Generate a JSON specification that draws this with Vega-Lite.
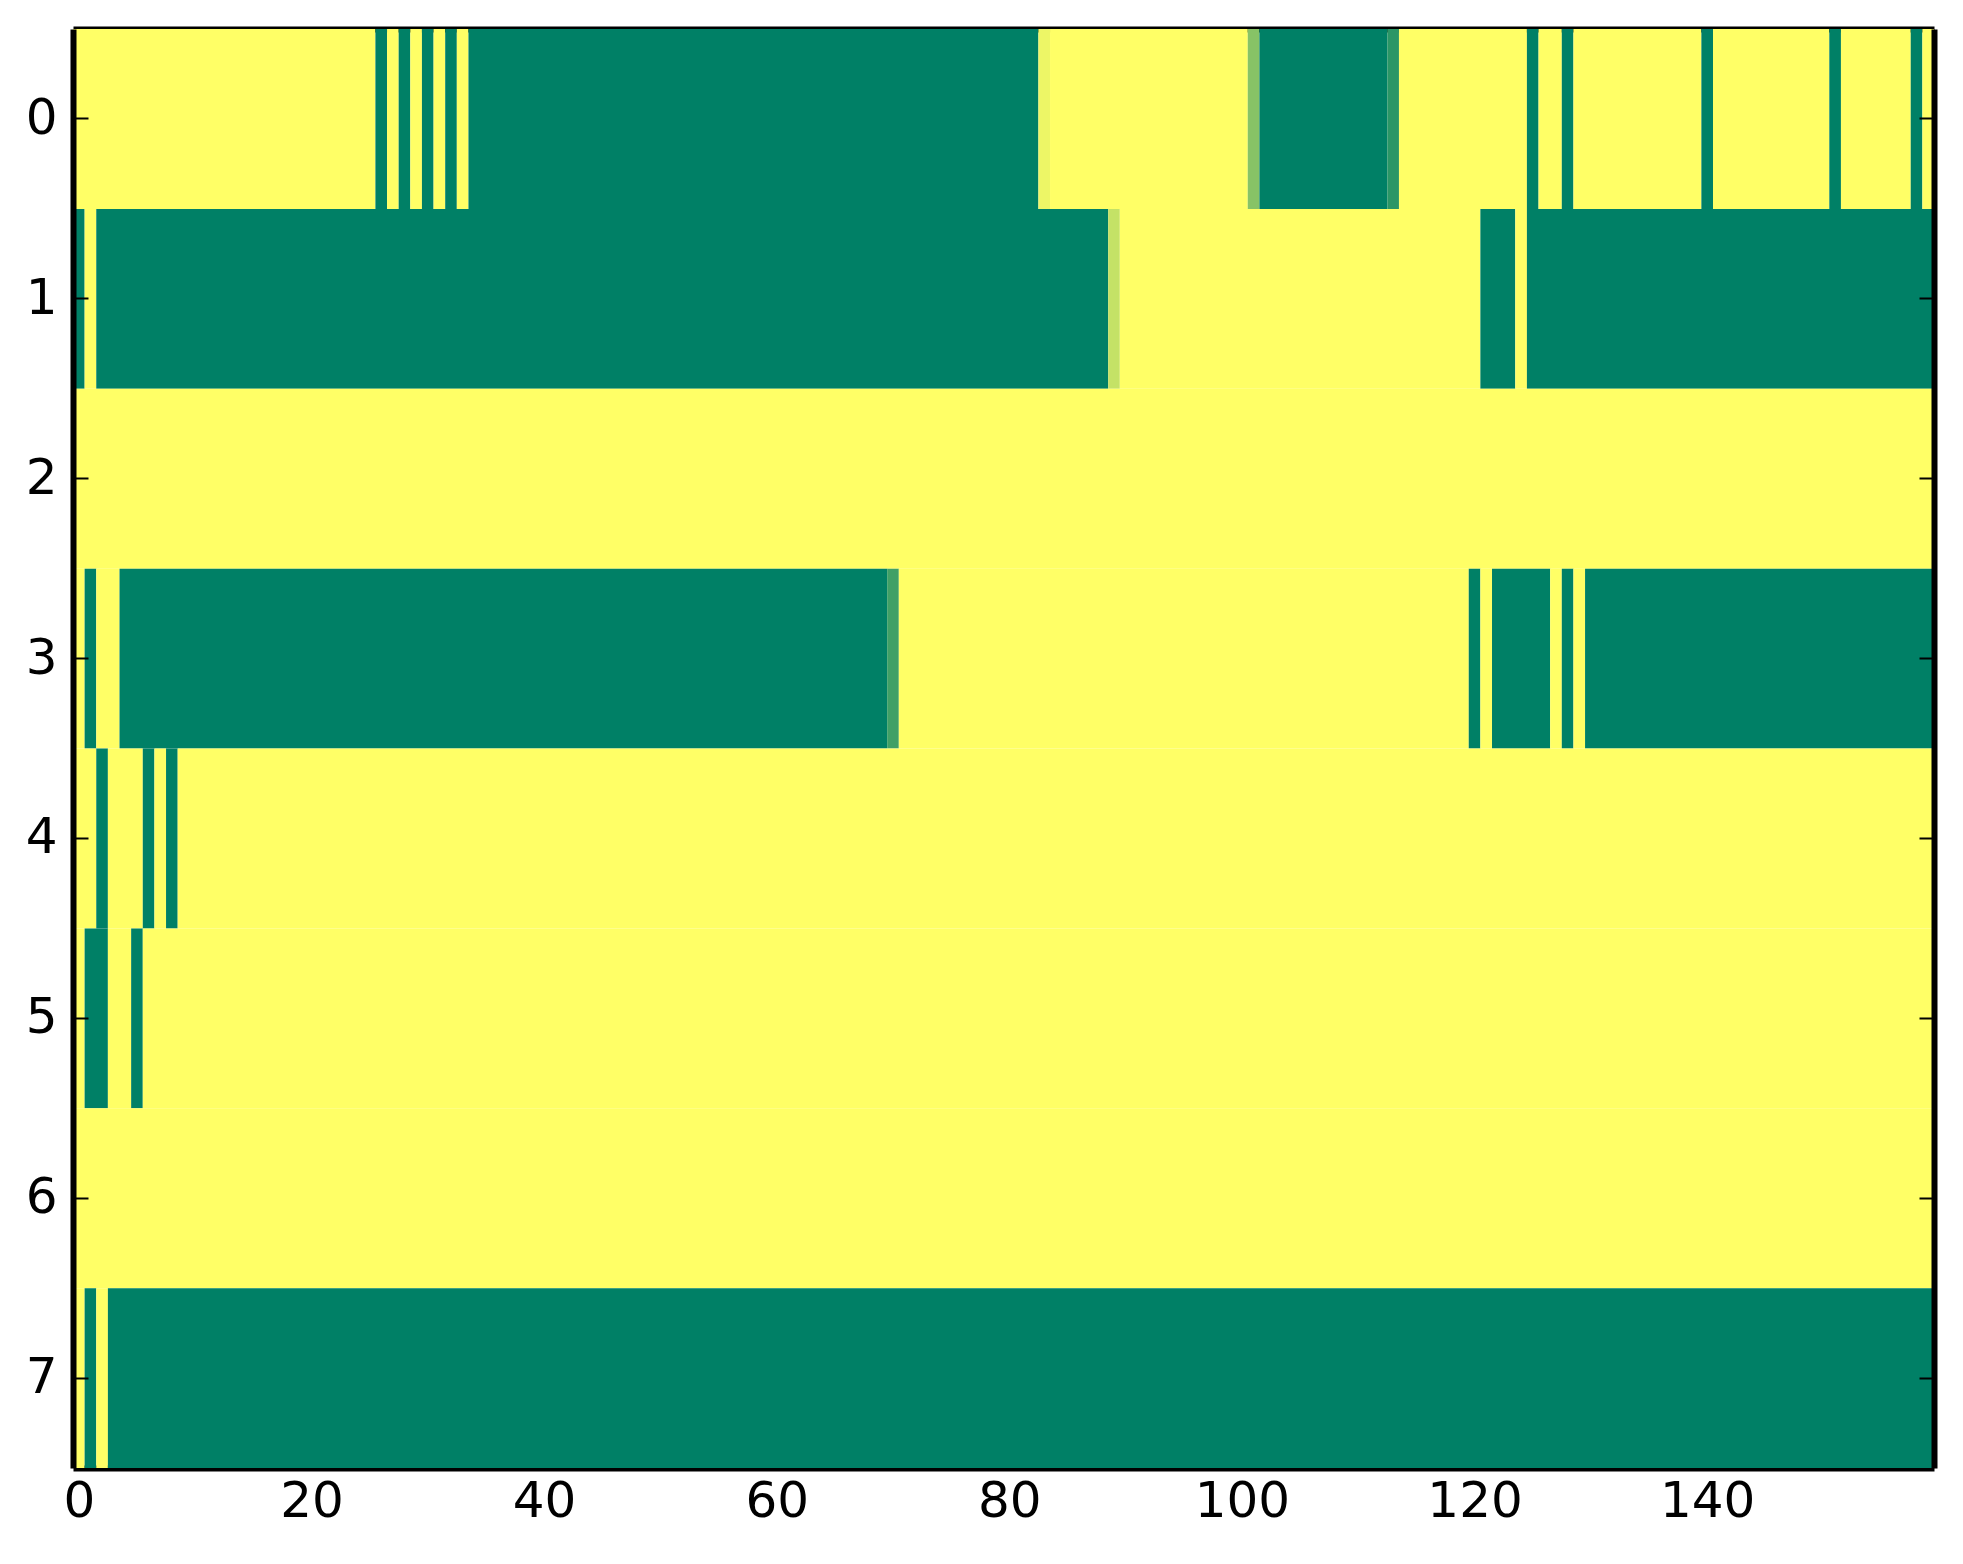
{
  "$schema": "https://vega.github.io/schema/vega-lite/v6.json",
  "width": 1861,
  "height": 1439,
  "autosize": {"type": "none"},
  "padding": {"left": 73, "top": 29, "right": 29, "bottom": 96},
  "background": "white",
  "data": {
    "values": [
      {"r": 0, "a": 0, "b": 25, "v": 1},
      {"r": 0, "a": 26, "b": 26, "v": 0},
      {"r": 0, "a": 27, "b": 27, "v": 1},
      {"r": 0, "a": 28, "b": 28, "v": 0},
      {"r": 0, "a": 29, "b": 29, "v": 1},
      {"r": 0, "a": 30, "b": 30, "v": 0},
      {"r": 0, "a": 31, "b": 31, "v": 1},
      {"r": 0, "a": 32, "b": 32, "v": 0},
      {"r": 0, "a": 33, "b": 33, "v": 1},
      {"r": 0, "a": 34, "b": 82, "v": 0},
      {"r": 0, "a": 83, "b": 83, "v": 0.93},
      {"r": 0, "a": 84, "b": 100, "v": 1},
      {"r": 0, "a": 101, "b": 101, "v": 0.53},
      {"r": 0, "a": 102, "b": 112, "v": 0},
      {"r": 0, "a": 113, "b": 113, "v": 0.17},
      {"r": 0, "a": 114, "b": 124, "v": 1},
      {"r": 0, "a": 125, "b": 125, "v": 0},
      {"r": 0, "a": 126, "b": 127, "v": 1},
      {"r": 0, "a": 128, "b": 128, "v": 0},
      {"r": 0, "a": 129, "b": 139, "v": 1},
      {"r": 0, "a": 140, "b": 140, "v": 0},
      {"r": 0, "a": 141, "b": 150, "v": 1},
      {"r": 0, "a": 151, "b": 151, "v": 0},
      {"r": 0, "a": 152, "b": 157, "v": 1},
      {"r": 0, "a": 158, "b": 158, "v": 0},
      {"r": 0, "a": 159, "b": 159, "v": 1},
      {"r": 1, "a": 0, "b": 0, "v": 0},
      {"r": 1, "a": 1, "b": 1, "v": 1},
      {"r": 1, "a": 2, "b": 88, "v": 0},
      {"r": 1, "a": 89, "b": 89, "v": 0.77},
      {"r": 1, "a": 90, "b": 120, "v": 1},
      {"r": 1, "a": 121, "b": 123, "v": 0},
      {"r": 1, "a": 124, "b": 124, "v": 1},
      {"r": 1, "a": 125, "b": 159, "v": 0},
      {"r": 2, "a": 0, "b": 159, "v": 1},
      {"r": 3, "a": 0, "b": 0, "v": 1},
      {"r": 3, "a": 1, "b": 1, "v": 0},
      {"r": 3, "a": 2, "b": 3, "v": 1},
      {"r": 3, "a": 4, "b": 69, "v": 0},
      {"r": 3, "a": 70, "b": 70, "v": 0.25},
      {"r": 3, "a": 71, "b": 119, "v": 1},
      {"r": 3, "a": 120, "b": 120, "v": 0},
      {"r": 3, "a": 121, "b": 121, "v": 1},
      {"r": 3, "a": 122, "b": 126, "v": 0},
      {"r": 3, "a": 127, "b": 127, "v": 1},
      {"r": 3, "a": 128, "b": 128, "v": 0},
      {"r": 3, "a": 129, "b": 129, "v": 1},
      {"r": 3, "a": 130, "b": 159, "v": 0},
      {"r": 4, "a": 0, "b": 1, "v": 1},
      {"r": 4, "a": 2, "b": 2, "v": 0},
      {"r": 4, "a": 3, "b": 5, "v": 1},
      {"r": 4, "a": 6, "b": 6, "v": 0},
      {"r": 4, "a": 7, "b": 7, "v": 1},
      {"r": 4, "a": 8, "b": 8, "v": 0},
      {"r": 4, "a": 9, "b": 159, "v": 1},
      {"r": 5, "a": 0, "b": 0, "v": 1},
      {"r": 5, "a": 1, "b": 2, "v": 0},
      {"r": 5, "a": 3, "b": 4, "v": 1},
      {"r": 5, "a": 5, "b": 5, "v": 0},
      {"r": 5, "a": 6, "b": 159, "v": 1},
      {"r": 6, "a": 0, "b": 159, "v": 1},
      {"r": 7, "a": 0, "b": 0, "v": 1},
      {"r": 7, "a": 1, "b": 1, "v": 0},
      {"r": 7, "a": 2, "b": 2, "v": 1},
      {"r": 7, "a": 3, "b": 159, "v": 0}
    ]
  },
  "layer": [
    {
      "mark": {"type": "rect", "xOffset": -5.82, "x2Offset": 5.82},
      "encoding": {
        "x": {
          "field": "a",
          "type": "quantitative",
          "scale": {"domain": [-0.5, 159.5], "nice": false, "zero": false},
          "axis": {"orient": "bottom", "title": null, "values": [0, 20, 40, 60, 80, 100, 120, 140], "labelPadding": 23}
        },
        "x2": {"field": "b"},
        "y": {
          "field": "r",
          "type": "ordinal",
          "scale": {"paddingInner": 0, "paddingOuter": 0},
          "axis": {"orient": "left", "title": null, "labelAngle": 0, "labelPadding": 31}
        },
        "color": {
          "field": "v",
          "type": "quantitative",
          "scale": {"domain": [0, 1], "range": ["#008066", "#ffff66"], "interpolate": "rgb"},
          "legend": null
        }
      }
    },
    {
      "mark": {"type": "rect", "opacity": 0},
      "encoding": {
        "x": {
          "field": "a",
          "type": "quantitative",
          "axis": {"orient": "top", "title": null, "labels": false, "values": [0, 20, 40, 60, 80, 100, 120, 140]}
        },
        "x2": {"field": "b"},
        "y": {
          "field": "r",
          "type": "ordinal",
          "axis": {"orient": "right", "title": null, "labels": false}
        }
      }
    }
  ],
  "resolve": {"axis": {"x": "independent", "y": "independent"}},
  "config": {
    "view": {"stroke": null},
    "axis": {
      "domain": true,
      "domainColor": "black",
      "domainWidth": 6,
      "grid": false,
      "ticks": true,
      "tickColor": "black",
      "tickWidth": 2,
      "tickSize": -15,
      "labelFont": "DejaVu Sans",
      "labelFontSize": 50,
      "labelColor": "black"
    }
  }
}
